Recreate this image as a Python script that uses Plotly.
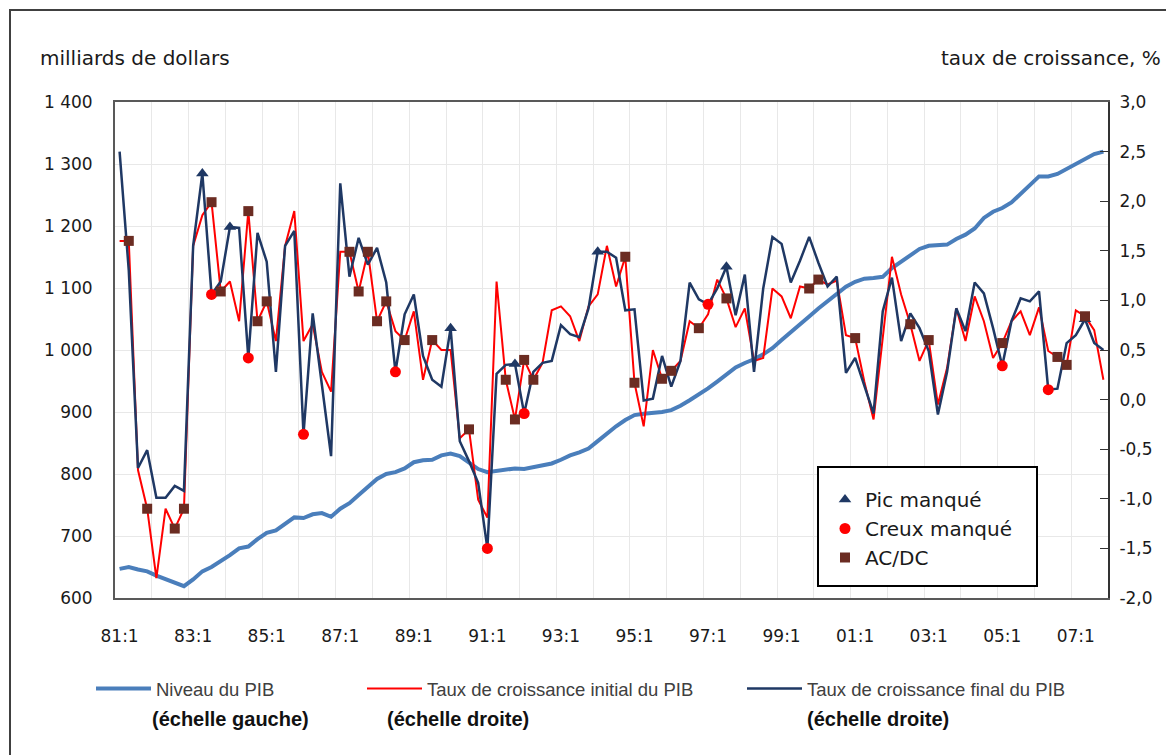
import plotly.graph_objects as go

# ---- categories (quarters 81:1 .. 07:4) ----
quarters = [f"{y % 100:02d}:{q}" for y in range(1981, 2008) for q in range(1, 5)]
xpos = list(range(len(quarters)))
tick_idx = list(range(0, len(quarters), 8))
tick_text = [quarters[i] for i in tick_idx]

# ---- series ----
gdp_level = [647, 650, 646, 643, 636, 630, 624, 619, 630, 643, 650, 659, 669, 680, 683, 695,
             705, 709, 720, 730, 729, 735, 737, 731, 744, 753, 766, 780, 792, 800, 803, 809,
             819, 822, 823, 830, 833, 829, 819, 808, 803, 805, 806, 809, 808, 811, 815, 817,
             823, 830, 835, 841, 853, 866, 877, 887, 895, 897, 898, 900, 903, 910, 919, 928,
             938, 949, 960, 972, 979, 985, 993, 1003, 1016, 1028, 1040, 1054, 1067, 1079, 1091, 1102,
             1110, 1115, 1116, 1118, 1132, 1142, 1152, 1163, 1168, 1169, 1170, 1179, 1186, 1196, 1213, 1223,
             1229, 1238, 1253, 1266, 1280, 1280, 1284, 1292, 1301, 1309, 1316, 1320]

growth_initial = [1.60, 1.60, -0.71, -1.10, -1.80, -1.10, -1.30, -1.10, 1.55, 1.86, 1.99, 1.09,
                  1.19, 0.79, 1.90, 0.79, 0.99, 0.59, 1.55, 1.90, 0.59, 0.76, 0.28, 0.08,
                  1.49, 1.49, 1.09, 1.49, 0.79, 0.99, 0.69, 0.60, 0.89, 0.20, 0.60, 0.50,
                  0.50, -0.39, -0.30, -1.01, -1.19, 1.19, 0.20, -0.20, 0.40, 0.20, 0.37, 0.90,
                  0.94, 0.84, 0.59, 0.94, 1.06, 1.55, 1.14, 1.44, 0.17, -0.27, 0.50, 0.21,
                  0.29, 0.39, 0.79, 0.72, 0.86, 1.21, 1.02, 0.73, 0.92, 0.39, 0.42, 1.12,
                  1.04, 0.82, 1.14, 1.12, 1.21, 1.16, 1.20, 0.65, 0.62, 0.18, -0.20, 0.65,
                  1.44, 1.06, 0.76, 0.39, 0.60, -0.05, 0.32, 0.92, 0.59, 1.04, 0.79, 0.42,
                  0.57, 0.79, 0.89, 0.65, 0.93, 0.49, 0.43, 0.35, 0.90, 0.84, 0.70, 0.20]

growth_final = [2.50, 1.30, -0.69, -0.51, -0.99, -0.99, -0.87, -0.92, 1.55, 2.28, 1.06, 1.19,
                1.74, 1.73, 0.42, 1.68, 1.39, 0.28, 1.55, 1.70, -0.35, 0.87, 0.15, -0.57,
                2.18, 1.24, 1.63, 1.36, 1.53, 1.18, 0.28, 0.86, 1.06, 0.44, 0.20, 0.13,
                0.72, -0.42, -0.62, -0.84, -1.50, 0.26, 0.35, 0.36, -0.14, 0.28, 0.37, 0.39,
                0.75, 0.66, 0.63, 0.92, 1.49, 1.49, 1.43, 0.90, 0.91, -0.01, 0.01, 0.44,
                0.13, 0.39, 1.18, 1.01, 0.96, 1.12, 1.34, 0.85, 1.26, 0.28, 1.12, 1.64,
                1.57, 1.18, 1.40, 1.64, 1.38, 1.14, 1.24, 0.27, 0.42, 0.15, -0.14, 0.89,
                1.23, 0.59, 0.87, 0.72, 0.49, -0.15, 0.28, 0.92, 0.69, 1.18, 1.07, 0.72,
                0.34, 0.79, 1.02, 0.99, 1.09, 0.10, 0.11, 0.57, 0.65, 0.81, 0.57, 0.50]

# event markers (quarter indices)
pic_idx = [9, 12, 36, 43, 52, 66, 105]                     # on final series
creux_idx = [10, 14, 20, 30, 40, 44, 64, 96, 101]          # on final series
acdc_idx = [1, 3, 6, 7, 10, 11, 14, 15, 16, 25, 26, 27, 28, 29, 31, 34, 38, 42, 43,
            44, 45, 55, 56, 59, 60, 63, 66, 75, 76, 80, 86, 88, 96, 102, 103, 105]  # on initial series

# axis ticks
left_vals = [600, 700, 800, 900, 1000, 1100, 1200, 1300, 1400]
left_text = ["600", "700", "800", "900", "1\u00a0000", "1\u00a0100", "1\u00a0200", "1\u00a0300", "1\u00a0400"]
right_vals = [-2.0, -1.5, -1.0, -0.5, 0.0, 0.5, 1.0, 1.5, 2.0, 2.5, 3.0]
right_text = ["-2,0", "-1,5", "-1,0", "-0,5", "0,0", "0,5", "1,0", "1,5", "2,0", "2,5", "3,0"]
year_bounds = [i - 0.5 for i in range(4, len(quarters), 4)]

C_GDP = "#4A7EBB"
C_INIT = "#FF0000"
C_FINAL = "#1F3864"
C_ACDC = "#6B2C22"
FONT = "DejaVu Sans, Liberation Sans, Arial, sans-serif"
LEGFONT = "Liberation Sans, Arial, sans-serif"

fig = go.Figure()
fig.add_trace(go.Scatter(x=xpos, y=gdp_level, mode="lines", name="Niveau du PIB",
                         line=dict(color=C_GDP, width=4), yaxis="y", legend="legend2"))
fig.add_trace(go.Scatter(x=xpos, y=growth_initial, mode="lines",
                         name="Taux de croissance initial du PIB",
                         line=dict(color=C_INIT, width=2), yaxis="y2", legend="legend3"))
fig.add_trace(go.Scatter(x=xpos, y=growth_final, mode="lines",
                         name="Taux de croissance final du PIB",
                         line=dict(color=C_FINAL, width=2.5), yaxis="y2", legend="legend4"))
fig.add_trace(go.Scatter(x=pic_idx, y=[growth_final[i] for i in pic_idx], mode="markers",
                         name="Pic manqué", yaxis="y2", legend="legend",
                         marker=dict(symbol="triangle-up", size=11, color=C_FINAL)))
fig.add_trace(go.Scatter(x=creux_idx, y=[growth_final[i] for i in creux_idx], mode="markers",
                         name="Creux manqué", yaxis="y2", legend="legend",
                         marker=dict(symbol="circle", size=11, color=C_INIT)))
fig.add_trace(go.Scatter(x=acdc_idx, y=[growth_initial[i] for i in acdc_idx], mode="markers",
                         name="AC/DC", yaxis="y2", legend="legend",
                         marker=dict(symbol="square", size=10, color=C_ACDC)))

# page offset (body margin) and figure size
OFF = 8
W, H = 1174, 755
# plot area in screen pixels: x 115..1108, y 102..598
L, T = 115 - OFF, 102 - OFF
pw, ph = 993, 496
R = W - L - pw
B = H - T - ph


def px(xs):
    return (xs - OFF - L) / pw


def py(ys):
    return (T + ph - (ys - OFF)) / ph


bottom_legend = dict(orientation="h", bgcolor="rgba(0,0,0,0)", borderwidth=0,
                     font=dict(family=LEGFONT, size=18.5, color="#404040"),
                     itemwidth=55, yanchor="middle", xanchor="left")

fig.update_layout(
    width=W, height=H,
    margin=dict(l=L, r=R, t=T, b=B),
    paper_bgcolor="white", plot_bgcolor="white",
    font=dict(family=FONT, size=17, color="#1a1a1a"),
    xaxis=dict(range=[-0.5, len(quarters) - 0.5], tickmode="array", tickvals=tick_idx,
               ticktext=tick_text, showgrid=False, zeroline=False,
               showline=True, mirror=True, linecolor="#595959", linewidth=2,
               ticks="", ticklabelstandoff=22,
               minor=dict(tickmode="array", tickvals=year_bounds, showgrid=True,
                          gridcolor="#E8E8E8", gridwidth=1, ticks="")),
    yaxis=dict(range=[600, 1400], tickmode="array", tickvals=left_vals, ticktext=left_text,
               showgrid=True, gridcolor="#E8E8E8", gridwidth=1, zeroline=False,
               showline=True, mirror=True, linecolor="#595959", linewidth=2,
               ticks="", ticklabelstandoff=17),
    yaxis2=dict(range=[-2.0, 3.0], tickmode="array", tickvals=right_vals, ticktext=right_text,
                overlaying="y", side="right", showgrid=False, zeroline=False,
                showline=True, linecolor="#333333", linewidth=2,
                ticks="inside", ticklen=8, tickcolor="#333333", ticklabelstandoff=6),
    legend=dict(x=px(825), y=py(480), xanchor="left", yanchor="top",
                bgcolor="rgba(0,0,0,0)", borderwidth=0,
                font=dict(family=FONT, size=20, color="#1a1a1a"), tracegroupgap=0),
    legend2=dict(bottom_legend, x=px(91), y=py(689)),
    legend3=dict(bottom_legend, x=px(362), y=py(689)),
    legend4=dict(bottom_legend, x=px(742), y=py(689)),
    showlegend=True,
)

fig.add_annotation(text="milliards de dollars", xref="paper", yref="paper",
                   x=px(38), y=py(58), xanchor="left", yanchor="middle", showarrow=False,
                   font=dict(family=FONT, size=20, color="#1a1a1a"))
fig.add_annotation(text="taux de croissance, %", xref="paper", yref="paper",
                   x=px(1163), y=py(58), xanchor="right", yanchor="middle", showarrow=False,
                   font=dict(family=FONT, size=20, color="#1a1a1a"))
for label, xl in [("(échelle gauche)", 150), ("(échelle droite)", 385), ("(échelle droite)", 805)]:
    fig.add_annotation(text=f"<b>{label}</b>", xref="paper", yref="paper", x=px(xl), y=py(719),
                       xanchor="left", yanchor="middle", showarrow=False,
                       font=dict(family=LEGFONT, size=20, color="#111111"))

# inset legend frame
fig.add_shape(type="rect", xref="paper", yref="paper", x0=px(818), x1=px(1037),
              y0=py(586), y1=py(467), line=dict(color="#000000", width=2),
              fillcolor="white", layer="above")
# outer chart frame
fig.add_shape(type="rect", xref="paper", yref="paper", x0=px(10), x1=px(1190),
              y0=py(770), y1=py(10), line=dict(color="#404040", width=2), layer="below")

fig.write_html("out.html")
